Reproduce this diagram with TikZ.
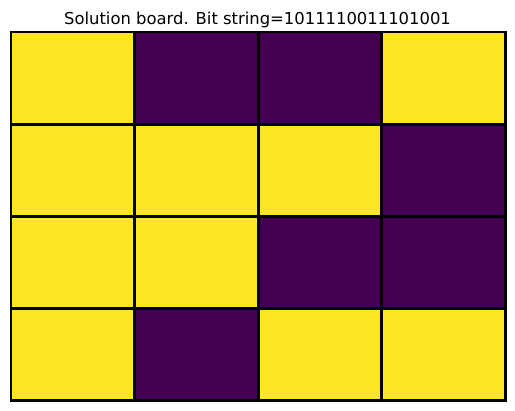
\documentclass[tikz,border=0pt]{standalone}
\usepackage{fontspec}
\setmainfont{DejaVu Sans}
\definecolor{vyel}{HTML}{FDE725}
\definecolor{vpur}{HTML}{440154}
\begin{document}
\begin{tikzpicture}[x=0.75pt,y=-0.75pt,
  cell/.style={rectangle,inner sep=0pt,outer sep=0pt,minimum width=92.7pt,minimum height=69.1pt,draw=black,line width=2.1pt},
  Y/.style={cell,fill=vyel},
  P/.style={cell,fill=vpur}]
\useasboundingbox (0,0) rectangle (515,411);
\node[anchor=base,inner sep=0pt] (title) at (257.5,24.8) {\fontsize{12.3}{14}\selectfont Solution board. Bit string=1011110011101001};
\def\cw{123.625}
\def\ch{92.125}
\foreach \r/\row in {0/{Y,P,P,Y},1/{Y,Y,Y,P},2/{Y,Y,P,P},3/{Y,P,Y,Y}}{
  \foreach \s [count=\c from 0] in \row {
    \node[\s] (c\r\c) at ({11+\cw*(\c+0.5)},{32+\ch*(\r+0.5)}) {};
  }
}
\draw[line width=0.9pt] (c00.north west) rectangle (c33.south east);
\end{tikzpicture}
\end{document}
